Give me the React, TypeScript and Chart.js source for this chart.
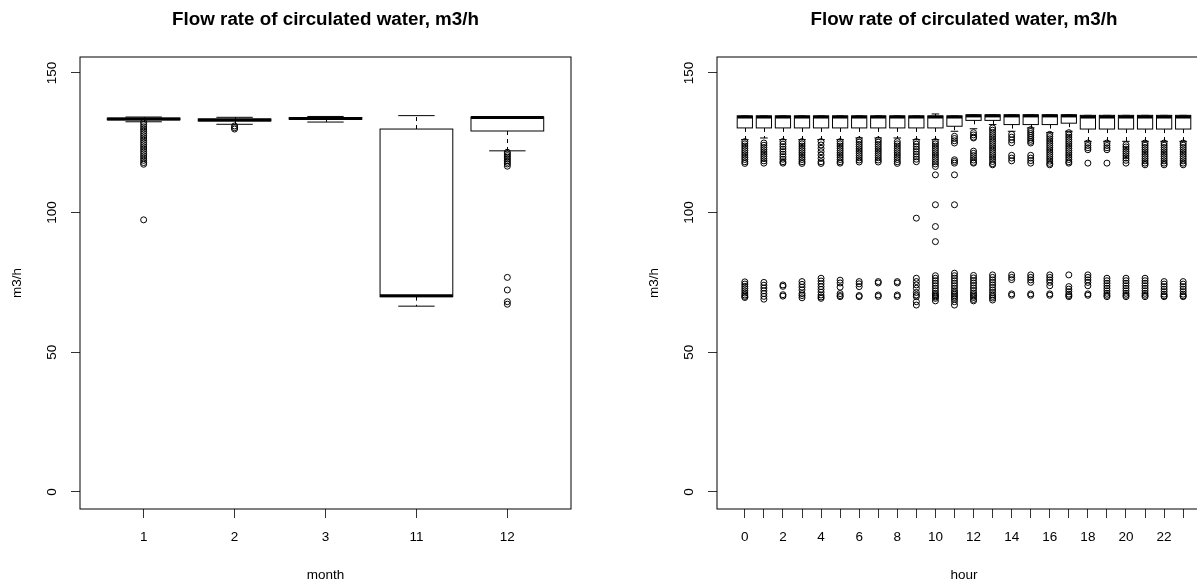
import { useEffect, useRef } from 'react';
import Chart from 'chart.js/auto';

const chartTitle = 'Flow rate of circulated water, m3/h';
const yTicks = [0, 50, 100, 150];

const monthLabels = ['1', '2', '3', '11', '12'];
// [lower whisker, q1, median, q3, upper whisker]
const monthStats = [
    [132.5, 133.2, 133.5, 133.8, 134.2],
    [131.6, 132.8, 133.1, 133.5, 134.1],
    [132.4, 133.4, 133.7, 134.0, 134.4],
    [66.5, 69.9, 70.2, 129.9, 134.7],
    [122.1, 129.2, 134.0, 134.2, 134.2],
];
const monthOutliers = [
    [132.3, 131.5, 130.7, 129.9, 129.1, 128.3, 127.5, 126.7, 125.9, 125.1, 124.3, 123.5, 122.7, 121.9, 121.1, 120.3, 119.5, 118.7, 117.9, 117.3, 97.4],
    [131.0, 130.4, 129.9],
    [],
    [],
    [121.6, 121.0, 120.4, 119.8, 119.2, 118.6, 118.0, 117.4, 116.6, 76.8, 72.3, 68.1, 67.2],
];

const hourLabels = ['0', '1', '2', '3', '4', '5', '6', '7', '8', '9', '10', '11', '12', '13', '14', '15', '16', '17', '18', '19', '20', '21', '22', '23'];
const hourStats = [
    [126.1, 130.3, 134.2, 134.6, 134.6],
    [126.7, 130.3, 134.2, 134.6, 134.6],
    [126.1, 130.3, 134.2, 134.6, 134.6],
    [126.1, 130.3, 134.2, 134.6, 134.6],
    [126.1, 130.3, 134.2, 134.6, 134.6],
    [126.1, 130.3, 134.2, 134.6, 134.6],
    [126.7, 130.3, 134.2, 134.6, 134.6],
    [126.7, 130.3, 134.2, 134.6, 134.6],
    [126.7, 130.3, 134.2, 134.6, 134.6],
    [126.1, 130.3, 134.2, 134.6, 134.6],
    [126.1, 130.3, 134.2, 134.6, 135.3],
    [129.1, 130.9, 134.2, 134.6, 134.6],
    [130.0, 133.0, 134.6, 135.0, 135.0],
    [131.5, 133.0, 134.6, 135.0, 135.0],
    [129.1, 131.5, 134.6, 135.0, 135.0],
    [130.3, 131.5, 134.6, 135.0, 135.0],
    [128.6, 131.5, 134.6, 135.0, 135.0],
    [129.1, 132.0, 134.6, 135.0, 135.0],
    [125.5, 129.9, 134.2, 134.8, 134.8],
    [125.5, 129.9, 134.2, 134.8, 134.8],
    [125.5, 129.9, 134.2, 134.8, 134.8],
    [125.5, 129.9, 134.2, 134.8, 134.8],
    [125.5, 129.9, 134.2, 134.8, 134.8],
    [125.5, 129.9, 134.2, 134.8, 134.8],
];
const hourOutliers = [
    [125.4, 124.6, 123.8, 123.0, 122.2, 121.4, 120.6, 119.8, 119.0, 118.2, 117.6, 75.2, 74.4, 73.6, 72.8, 72.0, 71.2, 70.5, 70.0, 69.6],
    [124.9, 124.1, 123.3, 122.5, 121.7, 120.9, 120.1, 119.3, 118.5, 117.7, 75.0, 74.0, 73.0, 72.0, 71.0, 70.0, 69.0],
    [125.4, 124.5, 123.6, 122.7, 121.8, 120.9, 120.0, 119.1, 118.2, 117.7, 74.1, 73.6, 70.6, 70.1],
    [125.4, 124.6, 123.8, 123.0, 122.2, 121.4, 120.6, 119.8, 119.0, 118.2, 117.6, 75.3, 74.3, 73.3, 72.3, 71.0, 70.3, 69.5],
    [125.4, 124.2, 123.0, 121.8, 120.6, 119.4, 118.2, 117.6, 76.5, 75.5, 74.5, 73.5, 72.5, 71.5, 70.5, 69.8, 69.3],
    [125.4, 124.6, 123.8, 123.0, 122.2, 121.4, 120.6, 119.8, 119.0, 118.2, 117.7, 75.8, 74.8, 73.3, 71.0, 70.3, 69.9],
    [126.0, 125.2, 124.4, 123.6, 122.8, 122.0, 121.2, 120.4, 119.6, 118.8, 118.1, 75.3, 74.5, 73.5, 70.3, 69.9],
    [126.0, 125.2, 124.4, 123.6, 122.8, 122.0, 121.2, 120.4, 119.6, 118.8, 118.1, 75.3, 74.8, 70.5, 70.0],
    [125.4, 124.6, 123.8, 123.0, 122.2, 121.4, 120.6, 119.8, 119.0, 118.2, 117.6, 75.3, 74.8, 70.5, 70.0],
    [125.4, 124.5, 123.6, 122.7, 121.8, 120.9, 120.0, 119.1, 118.2, 98.0, 76.5, 75.3, 74.1, 72.9, 71.4, 70.5, 69.9, 68.1, 66.9],
    [125.4, 124.6, 123.8, 123.0, 122.2, 121.4, 120.6, 119.8, 119.0, 118.2, 117.4, 116.5, 113.5, 102.8, 95.0, 89.6, 77.4, 76.5, 75.6, 74.7, 73.8, 72.9, 72.0, 71.1, 70.6, 70.2, 69.8, 69.3, 68.4],
    [127.3, 126.5, 125.7, 124.9, 118.9, 118.3, 117.7, 113.5, 102.8, 78.3, 77.4, 76.5, 75.6, 74.7, 73.8, 72.9, 72.0, 71.4, 70.8, 70.2, 69.6, 69.0, 68.1, 66.9],
    [128.6, 127.8, 127.0, 126.7, 122.0, 121.2, 120.4, 119.6, 118.8, 118.0, 117.7, 77.5, 76.6, 75.7, 74.8, 73.9, 73.0, 72.1, 71.2, 70.6, 70.1, 69.6, 68.9, 68.4],
    [130.3, 129.5, 128.7, 127.9, 127.1, 126.3, 125.5, 124.7, 123.9, 123.1, 122.3, 121.5, 120.7, 119.9, 119.1, 118.3, 117.5, 117.1, 77.7, 76.8, 75.9, 75.0, 74.1, 73.2, 72.3, 71.4, 70.6, 70.0, 69.4, 68.7],
    [128.0, 127.0, 126.0, 125.0, 120.5, 119.5, 118.5, 77.7, 76.8, 76.0, 70.9, 70.4],
    [129.7, 129.0, 128.3, 127.6, 126.9, 126.2, 125.5, 124.9, 120.5, 119.5, 118.6, 117.7, 77.7, 76.8, 75.9, 75.0, 70.9, 70.4],
    [128.0, 127.2, 126.4, 125.6, 124.8, 124.0, 123.2, 122.4, 121.6, 120.8, 120.0, 119.2, 118.4, 117.6, 117.1, 77.7, 76.8, 75.9, 75.0, 73.8, 70.9, 70.4],
    [128.6, 127.8, 127.0, 126.2, 125.4, 124.6, 123.8, 123.0, 122.2, 121.4, 120.6, 119.8, 119.0, 118.2, 117.7, 77.7, 73.5, 72.6, 71.7, 70.8, 70.3, 69.9],
    [124.9, 124.0, 123.2, 122.5, 117.7, 77.7, 76.8, 75.9, 75.0, 73.8, 70.9, 70.4],
    [124.9, 124.0, 123.2, 122.5, 117.7, 76.5, 75.6, 74.7, 73.8, 72.9, 72.0, 71.1, 70.4, 69.9],
    [124.3, 123.5, 122.7, 121.9, 121.1, 120.3, 119.5, 118.7, 117.7, 76.5, 75.6, 74.7, 73.8, 72.9, 72.0, 71.1, 70.4, 69.9],
    [124.9, 124.1, 123.3, 122.5, 121.7, 120.9, 120.1, 119.3, 118.5, 117.7, 117.1, 76.5, 75.6, 74.7, 73.8, 72.9, 72.0, 71.1, 70.4, 69.9],
    [124.9, 124.1, 123.3, 122.5, 121.7, 120.9, 120.1, 119.3, 118.5, 117.7, 117.1, 75.3, 74.4, 73.5, 72.6, 71.7, 70.8, 70.2, 69.9],
    [124.9, 124.1, 123.3, 122.5, 121.7, 120.9, 120.1, 119.3, 118.5, 117.7, 117.1, 75.3, 74.4, 73.5, 72.6, 71.7, 70.8, 70.2, 69.9],
];

const FONT = '"Liberation Sans", Arial, sans-serif';

// draws box, median, whiskers and staples for each group
const boxplotPlugin = {
    id: 'boxplot',
    beforeDatasetsDraw(chart: any, _args: any, opts: any) {
        const { ctx } = chart;
        const x = chart.scales.x;
        const y = chart.scales.y;
        const half = opts.width / 2;
        const line = (x1: number, y1: number, x2: number, y2: number) => {
            ctx.beginPath();
            ctx.moveTo(x1, y1);
            ctx.lineTo(x2, y2);
            ctx.stroke();
        };
        ctx.save();
        ctx.strokeStyle = '#000';
        (opts.stats as number[][]).forEach((s, i) => {
            const pos = i + 1;
            const [lo, q1, med, q3, hi] = s;
            const xl = x.getPixelForValue(pos - half);
            const xr = x.getPixelForValue(pos + half);
            const xc = Math.round(x.getPixelForValue(pos)) + 0.5;
            const cl = x.getPixelForValue(pos - half / 2);
            const cr = x.getPixelForValue(pos + half / 2);
            ctx.lineWidth = 1;
            ctx.setLineDash([4, 4]);
            line(xc, y.getPixelForValue(q3), xc, y.getPixelForValue(hi));
            line(xc, y.getPixelForValue(q1), xc, y.getPixelForValue(lo));
            ctx.setLineDash([]);
            line(cl, y.getPixelForValue(hi), cr, y.getPixelForValue(hi));
            line(cl, y.getPixelForValue(lo), cr, y.getPixelForValue(lo));
            ctx.fillStyle = '#fff';
            const top = y.getPixelForValue(q3);
            const bot = y.getPixelForValue(q1);
            ctx.fillRect(xl, top, xr - xl, bot - top);
            ctx.strokeRect(xl, top, xr - xl, bot - top);
            ctx.lineWidth = 3;
            line(xl, y.getPixelForValue(med), xr, y.getPixelForValue(med));
        });
        ctx.restore();
    },
};

const framePlugin = {
    id: 'frame',
    afterDraw(chart: any) {
        const { ctx, chartArea: a } = chart;
        ctx.save();
        ctx.strokeStyle = '#000';
        ctx.lineWidth = 1;
        ctx.strokeRect(Math.round(a.left), Math.round(a.top), Math.round(a.right - a.left), Math.round(a.bottom - a.top));
        ctx.restore();
    },
};

interface PanelProps {
    labels: string[];
    stats: number[][];
    outliers: number[][];
    xTitle: string;
    labelStep: number;
    width: number;
}

const BoxPanel: React.FC<PanelProps> = (props) => {
    const chartRef = useRef<HTMLCanvasElement>(null);

    useEffect(() => {
        const canvas = chartRef.current;
        if (!canvas) return;
        const ctx = canvas.getContext('2d');
        if (!ctx) return;

        const n = props.labels.length;
        const ext = n * 0.04;
        const points: { x: number; y: number }[] = [];
        props.outliers.forEach((list, i) => list.forEach((v) => points.push({ x: i + 1, y: v })));
        const positions = props.labels.map((_, i) => i + 1);

        const chart = new Chart(ctx, {
            type: 'scatter',
            data: {
                datasets: [{
                    data: points,
                    pointRadius: 3,
                    pointBorderWidth: 1,
                    pointBorderColor: '#000',
                    pointBackgroundColor: 'rgba(0,0,0,0)',
                }],
            },
            options: {
                animation: false,
                responsive: false,
                events: [],
                layout: { padding: { left: 0, right: 27, top: 0, bottom: 0 } },
                plugins: {
                    legend: { display: false },
                    tooltip: { enabled: false },
                    title: {
                        display: true,
                        fullSize: false,
                        text: chartTitle,
                        color: '#000',
                        font: { family: FONT, size: 18.8, weight: 'bold' },
                        padding: { top: 8.7, bottom: 25.7 },
                    },
                    // @ts-ignore
                    boxplot: { stats: props.stats, width: 0.8 },
                },
                scales: {
                    x: {
                        type: 'linear',
                        min: 0.5 - ext,
                        max: n + 0.5 + ext,
                        afterBuildTicks: (s: any) => { s.ticks = positions.map((v) => ({ value: v })); },
                        afterFit: (s: any) => { s.height = 76; },
                        border: { display: false },
                        grid: { drawOnChartArea: false, drawTicks: true, tickLength: 9, tickColor: '#333' },
                        ticks: {
                            autoSkip: false,
                            minRotation: 0,
                            maxRotation: 0,
                            padding: 11,
                            color: '#000',
                            font: { family: FONT, size: 13.5 },
                            callback: (v: any) => ((v - 1) % props.labelStep === 0 ? props.labels[v - 1] : ''),
                        },
                        title: {
                            display: true,
                            text: props.xTitle,
                            color: '#000',
                            font: { family: FONT, size: 13.5 },
                            padding: { top: 0, bottom: 2 },
                        },
                    },
                    y: {
                        min: -6.1,
                        max: 155.7,
                        afterBuildTicks: (s: any) => { s.ticks = yTicks.map((v) => ({ value: v })); },
                        afterFit: (s: any) => { s.width = 80; },
                        border: { display: false },
                        grid: { drawOnChartArea: false, drawTicks: true, tickLength: 9, tickColor: '#333' },
                        ticks: {
                            minRotation: 90,
                            maxRotation: 90,
                            crossAlign: 'center',
                            padding: 7,
                            color: '#000',
                            font: { family: FONT, size: 13.5 },
                        },
                        title: {
                            display: true,
                            text: 'm3/h',
                            color: '#000',
                            font: { family: FONT, size: 13.5 },
                            padding: { top: 9, bottom: 0 },
                        },
                    },
                },
            },
            plugins: [boxplotPlugin, framePlugin],
        });

        return () => {
            chart.destroy();
        };
    }, [props.labels, props.stats, props.outliers, props.xTitle, props.labelStep]);

    return <canvas ref={chartRef} width={props.width} height={585} style={{ display: 'block', width: props.width, height: 585 }}></canvas>;
};

export default function App() {
    return (
        <div style={{ position: 'fixed', left: 0, top: 0, width: 1197, height: 585, overflow: 'hidden', background: '#fff' }}>
            <div style={{ position: 'absolute', left: 0, top: 0 }}>
                <BoxPanel labels={monthLabels} stats={monthStats} outliers={monthOutliers} xTitle="month" labelStep={1} width={598} />
            </div>
            <div style={{ position: 'absolute', left: 637, top: 0 }}>
                <BoxPanel labels={hourLabels} stats={hourStats} outliers={hourOutliers} xTitle="hour" labelStep={2} width={601} />
            </div>
        </div>
    );
}
